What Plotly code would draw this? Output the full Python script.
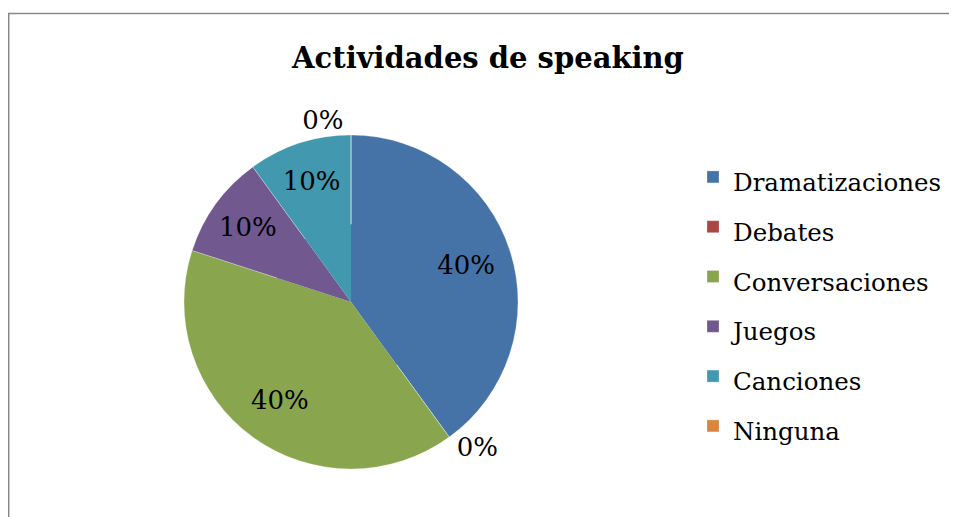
import plotly.graph_objects as go

categories = ["Dramatizaciones", "Debates", "Conversaciones", "Juegos", "Canciones", "Ninguna"]
values = [40, 0, 40, 10, 10, 0]
colors = ["#4572A7", "#AA4643", "#89A54E", "#71588F", "#4198AF", "#DB843D"]

# page body has an 8px margin, so the figure is drawn in page coords minus 8
OFF = 8
W, H = 957 - OFF, 517 - OFF
cx, cy, r = 351 - OFF, 302 - OFF, 167
HOLE = 0.45
FONT = "DejaVu Serif, Liberation Serif, serif"

textpos = ["inside" if v > 0 else "outside" for v in values]
legend_labels = [f"<span style='font-size:24.5px'>{c}</span>" for c in categories]
line = dict(color="rgba(255,255,255,0.4)", width=0.7)


def dom(rad):
    return dict(x=[(cx - rad) / W, (cx + rad) / W], y=[(H - cy - rad) / H, (H - cy + rad) / H])


outer = go.Pie(
    labels=legend_labels, values=values, sort=False, direction="clockwise", rotation=0,
    hole=HOLE,
    marker=dict(colors=colors, line=line),
    textinfo="percent",
    texttemplate="%{percent:.0%}",
    textposition=textpos,
    insidetextorientation="horizontal",
    textfont=dict(family=FONT, size=26, color="black"),
    domain=dom(r),
    showlegend=True,
    hoverinfo="percent",
)
# inner filler disc drawn on top, covering the hole, so the labels sit at ~0.73 r like the original
inner = go.Pie(
    labels=legend_labels, values=values, sort=False, direction="clockwise", rotation=0,
    marker=dict(colors=colors, line=dict(width=0)), textinfo="none", showlegend=False,
    domain=dom(r * (HOLE + 0.015)), hoverinfo="percent",
)
fig = go.Figure([outer, inner])

fig.update_layout(
    width=W, height=H,
    margin=dict(l=0, r=0, t=0, b=0),
    paper_bgcolor="white",
    title=dict(text="<b>Actividades de speaking</b>", x=(488 - OFF) / W, xanchor="center",
               y=1 - 50 / H, yanchor="middle",
               font=dict(family=FONT, size=29, color="black")),
    legend=dict(x=685 / W, xanchor="left", y=1 - 139 / H, yanchor="top",
                font=dict(family=FONT, size=36, color="black"),
                tracegroupgap=0, itemwidth=30, bgcolor="rgba(0,0,0,0)"),
    shapes=[
        dict(type="line", xref="paper", yref="paper", x0=0, x1=1.0, y0=1 - 5.5 / H, y1=1 - 5.5 / H,
             line=dict(color="#888888", width=1.5)),
        dict(type="line", xref="paper", yref="paper", x0=0.7 / W, x1=0.7 / W, y0=0, y1=1 - 5 / H,
             line=dict(color="#888888", width=1.5)),
    ],
)

fig.write_html("out.html")
